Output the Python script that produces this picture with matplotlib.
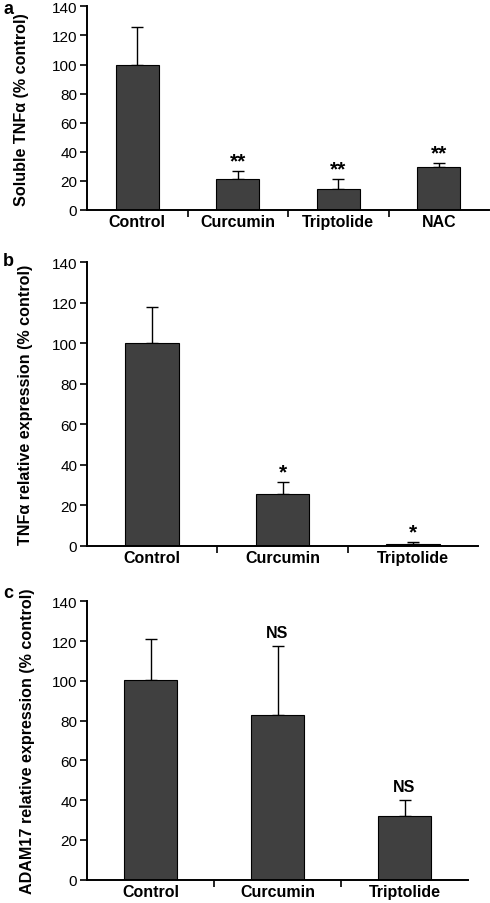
import matplotlib
matplotlib.use("Agg")
import matplotlib.pyplot as plt

plt.rcParams['font.family'] = ['Liberation Sans', 'DejaVu Sans']

# panel a
cats_a = ['Control', 'Curcumin', 'Triptolide', 'NAC']
vals_a = [99.5, 21.5, 14.3, 29.8]
err_a = [26, 5.3, 7, 2.5]
marks_a = ['', '**', '**', '**']

# panel b
cats_b = ['Control', 'Curcumin', 'Triptolide']
vals_b = [100, 25.8, 1.2]
err_b = [17.8, 5.8, 0.6]
marks_b = ['', '*', '*']

# panel c
cats_c = ['Control', 'Curcumin', 'Triptolide']
vals_c = [100.5, 83, 32]
err_c = [20.5, 34.3, 8]
marks_c = ['', 'NS', 'NS']

W, H = 490, 904
fig = plt.figure(figsize=(W / 100, H / 100), dpi=100)

def px_axes(left, right, top, bottom):
    return fig.add_axes([left / W, 1 - bottom / H, (right - left) / W, (bottom - top) / H])

def panel(ax, cats, vals, errs, marks, ylabel, width, mark_size, mark_pad, letter, letter_y, label_x):
    x = list(range(len(cats)))
    ax.bar(x, vals, width=width, color='#404040', edgecolor='black', linewidth=0.8, zorder=2)
    ax.errorbar(x, vals, yerr=[[0] * len(errs), errs], fmt='none', ecolor='black',
                elinewidth=1, capsize=4, capthick=1, zorder=1)
    for xi, v, e, m in zip(x, vals, errs, marks):
        if m:
            ax.text(xi, v + e + mark_pad, m, ha='center', va='bottom',
                    fontsize=mark_size, fontweight='bold')
    ax.set_xlim(-0.5, len(cats) - 0.5)
    ax.set_ylim(0, 140)
    ax.set_yticks(range(0, 141, 20))
    ax.set_xticks([i + 0.5 for i in range(len(cats) - 1)])
    ax.set_xticklabels([])
    ax.tick_params(axis='y', direction='out', length=5, width=1.2, labelsize=11, pad=2)
    ax.tick_params(axis='x', direction='out', length=5, width=1.2)
    for i, c in enumerate(cats):
        ax.annotate(c, xy=(i, 0), xycoords=('data', 'axes fraction'), xytext=(0, -4),
                    textcoords='offset pixels', ha='center', va='top',
                    fontsize=11.5, fontweight='bold')
    for s in ['top', 'right']:
        ax.spines[s].set_visible(False)
    for s in ['left', 'bottom']:
        ax.spines[s].set_linewidth(1.4)
    ax.set_ylabel(ylabel, fontsize=11.6, fontweight='bold')
    bb = ax.get_position()
    ax.yaxis.set_label_coords((label_x - bb.x0 * W) / (bb.width * W), 0.5)
    fig.text(3 / W, 1 - letter_y / H, letter, fontsize=13, fontweight='bold',
             va='baseline', ha='left')

ax_a = px_axes(87, 489, 7.3, 211)
panel(ax_a, cats_a, vals_a, err_a, marks_a, 'Soluble TNF\u03b1 (% control)',
      0.43, 15, 0.5, 'a', 14, 29)

ax_b = px_axes(87, 478, 263.3, 547)
panel(ax_b, cats_b, vals_b, err_b, marks_b, 'TNF\u03b1 relative expression (% control)',
      0.41, 15, 0.5, 'b', 266, 33)

ax_c = px_axes(87, 468, 602.3, 880.7)
panel(ax_c, cats_c, vals_c, err_c, marks_c, 'ADAM17 relative expression (% control)',
      0.41, 11.5, 3, 'c', 598, 35)

fig.savefig('out.png', dpi=100)
